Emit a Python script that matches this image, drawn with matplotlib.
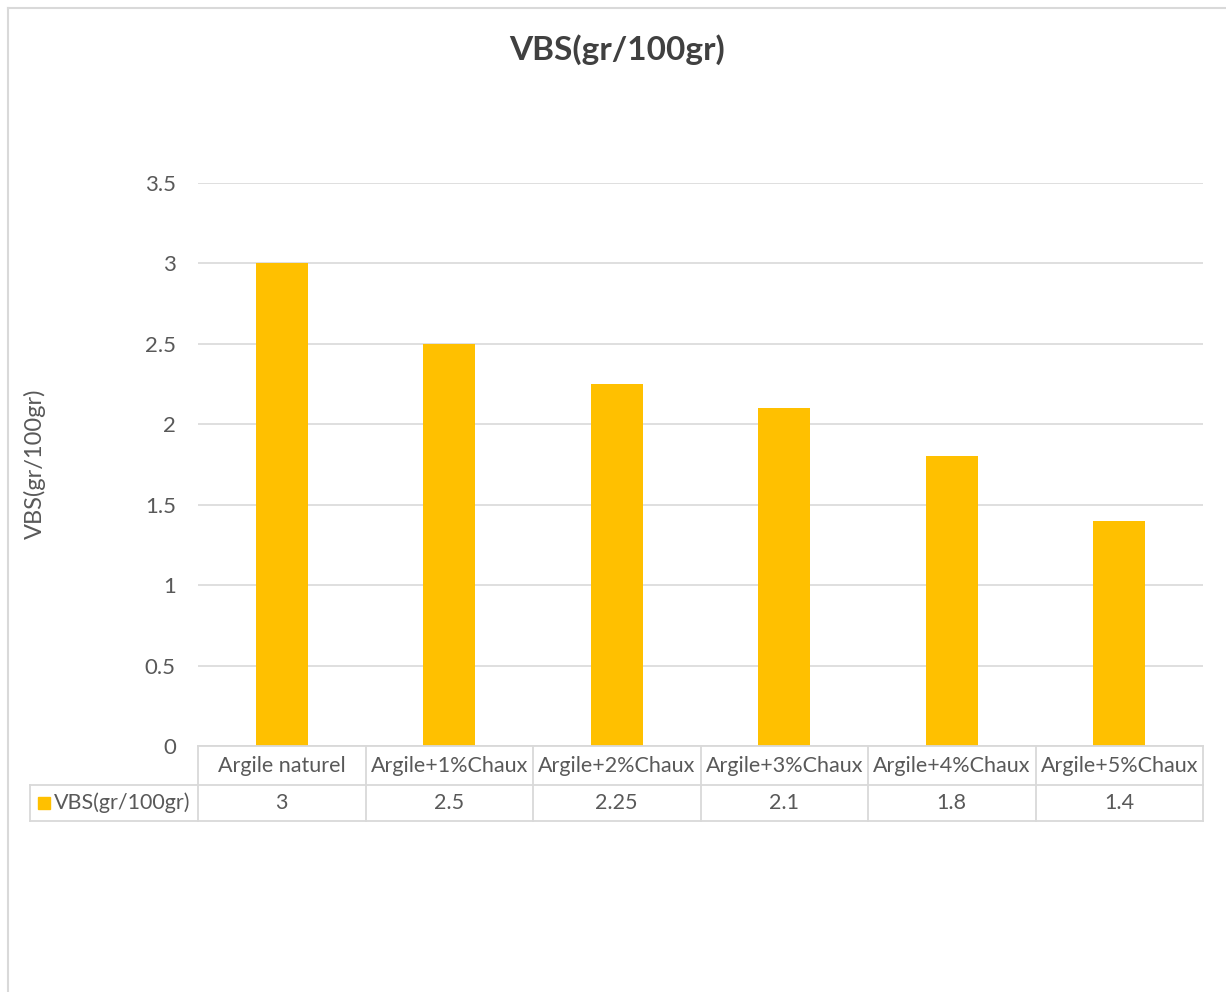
import matplotlib.pyplot as plt
from matplotlib.transforms import blended_transform_factory
from matplotlib.lines import Line2D
from matplotlib.patches import Rectangle

# VBS values for each mix
categories = ['Argile naturel', 'Argile+1%Chaux', 'Argile+2%Chaux',
              'Argile+3%Chaux', 'Argile+4%Chaux', 'Argile+5%Chaux']
vbs_values = [3, 2.5, 2.25, 2.1, 1.8, 1.4]
value_labels = ['3', '2.5', '2.25', '2.1', '1.8', '1.4']
series_name = 'VBS(gr/100gr)'

bar_color = '#FFC000'
text_color = '#595959'
line_color = '#D9D9D9'

plt.rcParams['font.family'] = ['Lato', 'DejaVu Sans']

fig = plt.figure(figsize=(12.26, 9.92), dpi=100)
ax = fig.add_axes([198 / 1226, 1 - 746 / 992, (1203 - 198) / 1226, (746 - 183) / 992])

x = range(len(categories))
ax.bar(x, vbs_values, width=0.31, color=bar_color, zorder=3)

ax.set_xlim(-0.5, len(categories) - 0.5)
ax.set_ylim(0, 3.5)
ax.set_yticks([0, 0.5, 1, 1.5, 2, 2.5, 3, 3.5])
ax.set_yticklabels(['0', '0.5', '1', '1.5', '2', '2.5', '3', '3.5'])
ax.set_xticks([])
ax.tick_params(axis='y', length=0, pad=16, labelsize=16, labelcolor=text_color)
ax.grid(axis='y', color=line_color, linewidth=1.2, zorder=0)
for s in ax.spines.values():
    s.set_visible(False)

fig.text(35 / 1226, 1 - 464 / 992, series_name, rotation=90, ha='center', va='center',
         fontsize=17, color=text_color)

fig.text(0.503, 1 - 50 / 992, series_name, ha='center', va='center',
         fontsize=24, fontweight='bold', color='#404040')

# data table under the plot: x in data units, y in axes fraction
tr = blended_transform_factory(ax.transData, ax.transAxes)
px = 1 / (746 - 183)  # one pixel in axes fraction
y_top = 0
y_mid = -39 * px
y_bot = -75 * px
x_left = -0.5 - (198 - 30) / 167.5

def hline(x0, x1, y):
    ax.add_line(Line2D([x0, x1], [y, y], transform=tr, color=line_color,
                       linewidth=1.3, clip_on=False, zorder=4))

def vline(xv, y0, y1):
    ax.add_line(Line2D([xv, xv], [y0, y1], transform=tr, color=line_color,
                       linewidth=1.3, clip_on=False, zorder=4))

hline(-0.5, len(categories) - 0.5, y_top)
hline(x_left, len(categories) - 0.5, y_mid)
hline(x_left, len(categories) - 0.5, y_bot)
vline(x_left, y_mid, y_bot)
for i in range(len(categories) + 1):
    vline(i - 0.5, y_top, y_bot)

for i, (cat, lab) in enumerate(zip(categories, value_labels)):
    ax.text(i, (y_top + y_mid) / 2, cat, transform=tr, ha='center', va='center',
            fontsize=15.5, color=text_color, clip_on=False)
    ax.text(i, (y_mid + y_bot) / 2, lab, transform=tr, ha='center', va='center',
            fontsize=15.5, color=text_color, clip_on=False)

# legend key in the row header
key_x = x_left + 8 / 167.5
ax.add_patch(Rectangle((key_x, (y_mid + y_bot) / 2 - 6 * px), 12 / 167.5, 12 * px,
                       transform=tr, color=bar_color, clip_on=False))
ax.text(key_x + 16 / 167.5, (y_mid + y_bot) / 2, series_name, transform=tr,
        ha='left', va='center', fontsize=15.5, color=text_color, clip_on=False)

# chart frame
fig.add_artist(Line2D([8 / 1226, 1.0], [1 - 8 / 992] * 2, transform=fig.transFigure,
                      color=line_color, linewidth=1.5))
fig.add_artist(Line2D([8 / 1226] * 2, [0, 1 - 8 / 992], transform=fig.transFigure,
                      color=line_color, linewidth=1.5))

fig.savefig('out.png', dpi=100)
